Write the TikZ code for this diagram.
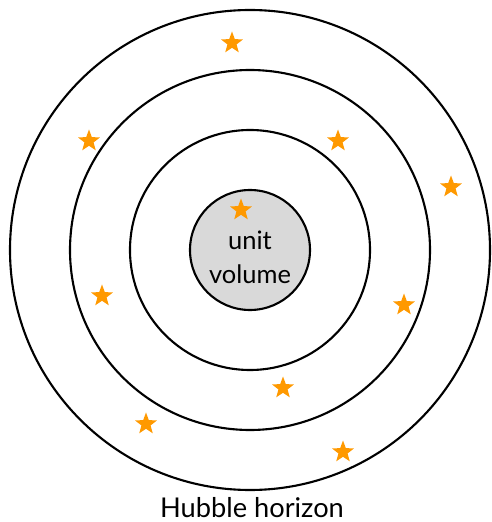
\documentclass[tikz,border=0pt]{standalone}
\usepackage{fontspec}
\setmainfont{Lato}
\usepackage{tikz}
\usetikzlibrary{shapes.geometric}

\definecolor{starorange}{RGB}{255,153,0}

\begin{document}
\begin{tikzpicture}[
  ring/.style={draw,line width=1.2pt},
  src/.style={star,star points=5,star point ratio=2.4,fill=starorange,
    minimum size=0.46cm,inner sep=0pt}]
\useasboundingbox (0,0) rectangle (9.84,10.44);
\coordinate (c) at (5.0,5.44);
\draw[ring] (c) circle (4.8);
\draw[ring] (c) circle (3.6);
\draw[ring] (c) circle (2.4);
\node[ring,circle,fill=black!15,minimum size=2.4cm,inner sep=0pt] (uv) at (c) {};
\node[align=center,font=\fontsize{14.5}{19.5}\selectfont] (uvt) at ([yshift=-0.14cm]uv.center) {unit\\volume};
\node[src] (s1) at (4.64,9.58) {};
\node[src] (s2) at (1.78,7.62) {};
\node[src] (s3) at (6.76,7.62) {};
\node[src] (s4) at (9.02,6.70) {};
\node[src] (s5) at (4.82,6.24) {};
\node[src] (s6) at (2.04,4.52) {};
\node[src] (s7) at (8.08,4.34) {};
\node[src] (s8) at (5.66,2.68) {};
\node[src] (s9) at (2.92,1.96) {};
\node[src] (s10) at (6.86,1.40) {};
\node[anchor=base,font=\fontsize{15.5}{18}\selectfont] (hh) at (5.04,0.08) {Hubble horizon};
\end{tikzpicture}
\end{document}
